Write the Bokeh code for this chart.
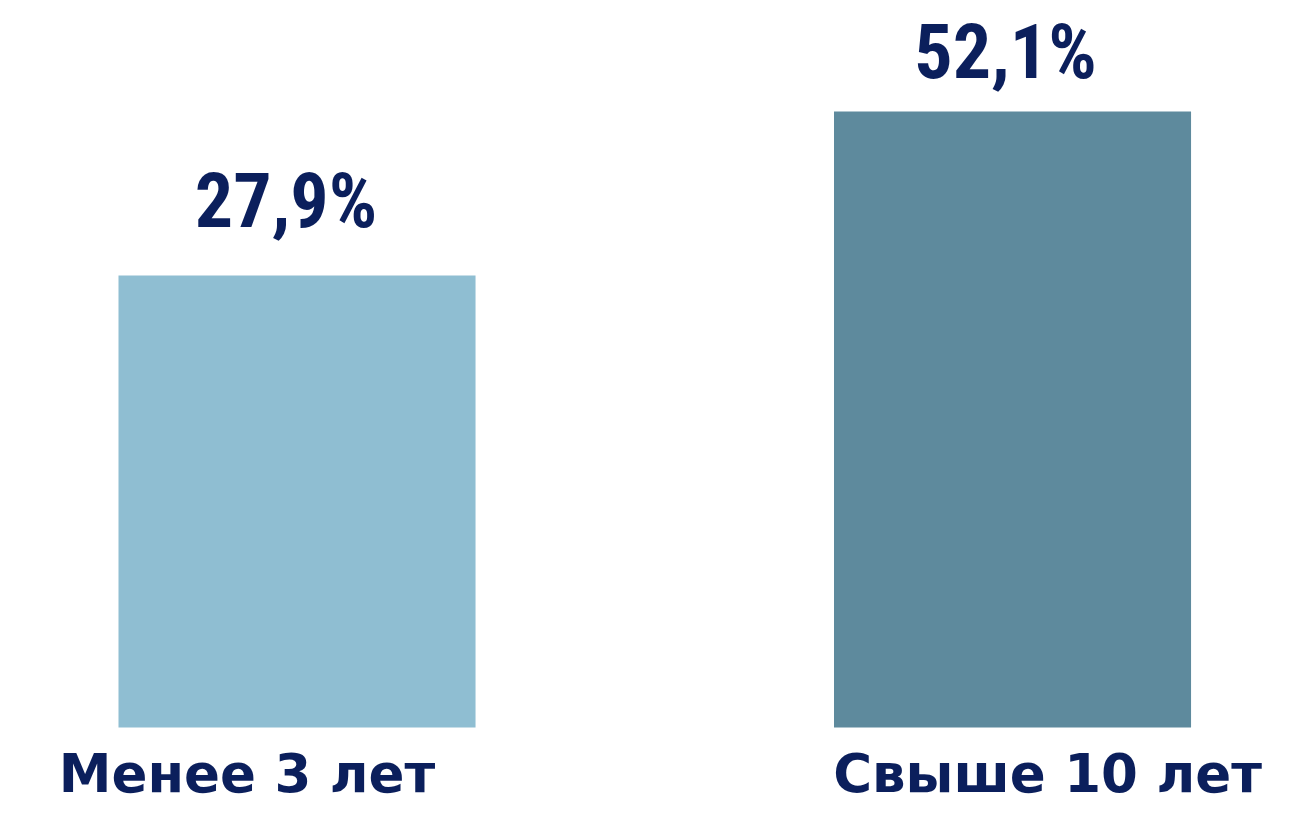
from bokeh.plotting import figure
from bokeh.models import ColumnDataSource, Range1d
from bokeh.core.properties import value
from bokeh.embed import file_html
from bokeh.resources import INLINE

# Data
categories = ["Менее 3 лет", "Свыше 10 лет"]
shares = [27.9, 52.1]
share_labels = ["27,9%", "52,1%"]
bar_colors = ["#8FBED2", "#5E8A9D"]

# Style constants
BAR_BASE = -38.8
TEXT_COLOR = "#0B1F5C"

src = ColumnDataSource(dict(
    x=list(range(len(categories))),
    top=shares,
    cat=categories,
    lab=share_labels,
    color=bar_colors,
    lab_dy=[-74, -59],
    lab_dx=[-11, -7],
    cat_dx=[-50, 35],
    base=[BAR_BASE] * len(categories),
))

p = figure(width=1285, height=804, output_backend="svg", toolbar_location=None,
           x_range=Range1d(-0.4144, 1.3815), y_range=Range1d(-50.17, 68.47),
           min_border=0, outline_line_color=None)
p.axis.visible = False
p.grid.visible = False
p.background_fill_color = "white"
p.border_fill_color = "white"

p.vbar(x="x", top="top", bottom="base", width=0.499, fill_color="color",
       line_color=None, source=src)

p.text(x="x", y="top", text="lab", source=src, x_offset="lab_dx", y_offset="lab_dy",
       text_align="center", text_baseline="alphabetic",
       text_font=value("'Liberation Sans Narrow', 'Roboto Condensed', 'DejaVu Sans Condensed', sans-serif"),
       text_font_style="bold",
       text_font_size="76px", text_color=TEXT_COLOR)

p.text(x="x", y="base", text="cat", source=src, x_offset="cat_dx", y_offset=46,
       text_align="center", text_baseline="alphabetic",
       text_font=value("DejaVu Sans"), text_font_style="bold",
       text_font_size="53px", text_color=TEXT_COLOR)

open("out.html", "w").write(file_html(p, INLINE))
